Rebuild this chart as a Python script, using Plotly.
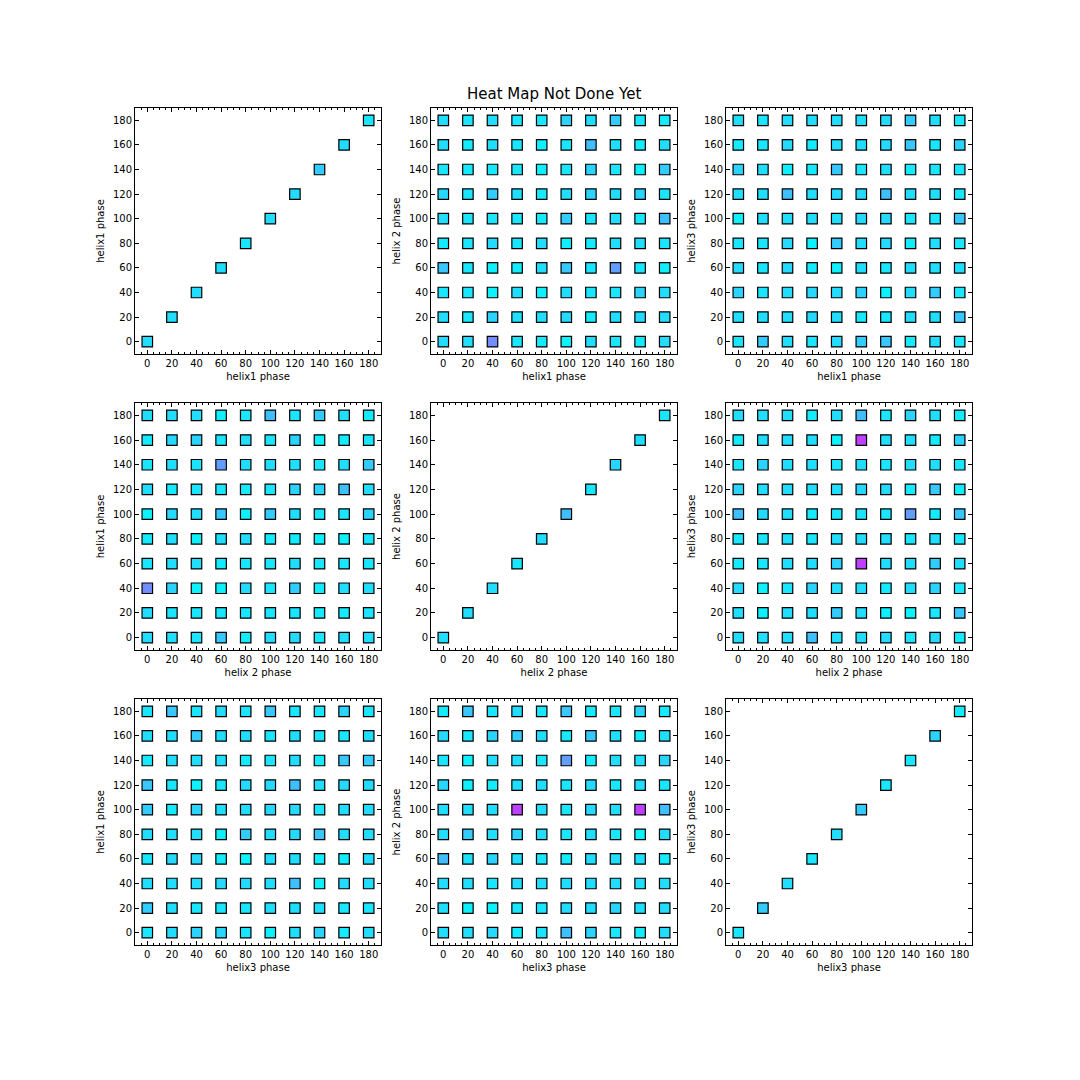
import plotly.graph_objects as go
from plotly.subplots import make_subplots

phases = [0, 20, 40, 60, 80, 100, 120, 140, 160, 180]
tick_vals = [0, 20, 40, 60, 80, 100, 120, 140, 160, 180]

# colour values (0 = cyan, 1 = magenta, "cool" colormap); rows listed from top (phase 180) to bottom (phase 0)
# A: x = helix1 phase, y = helix 2 phase
A_rows = [
    [0.13, 0.10, 0.13, 0.10, 0.10, 0.17, 0.13, 0.20, 0.10, 0.08],
    [0.13, 0.08, 0.13, 0.10, 0.06, 0.10, 0.25, 0.13, 0.08, 0.13],
    [0.10, 0.08, 0.08, 0.10, 0.06, 0.10, 0.17, 0.10, 0.06, 0.20],
    [0.15, 0.10, 0.20, 0.13, 0.08, 0.13, 0.17, 0.13, 0.17, 0.10],
    [0.13, 0.10, 0.10, 0.10, 0.08, 0.20, 0.10, 0.13, 0.10, 0.25],
    [0.08, 0.10, 0.15, 0.10, 0.13, 0.06, 0.08, 0.13, 0.13, 0.10],
    [0.22, 0.10, 0.06, 0.08, 0.13, 0.22, 0.10, 0.38, 0.10, 0.06],
    [0.10, 0.10, 0.05, 0.13, 0.06, 0.13, 0.10, 0.10, 0.17, 0.13],
    [0.13, 0.10, 0.17, 0.13, 0.13, 0.15, 0.08, 0.13, 0.15, 0.13],
    [0.13, 0.13, 0.45, 0.10, 0.08, 0.05, 0.13, 0.10, 0.08, 0.13],
]
# B: x = helix1 phase, y = helix3 phase
B_rows = [
    [0.13, 0.10, 0.13, 0.13, 0.13, 0.13, 0.15, 0.20, 0.13, 0.10],
    [0.08, 0.10, 0.15, 0.08, 0.13, 0.13, 0.15, 0.22, 0.10, 0.17],
    [0.17, 0.13, 0.06, 0.08, 0.22, 0.10, 0.13, 0.08, 0.10, 0.10],
    [0.13, 0.13, 0.25, 0.13, 0.15, 0.15, 0.25, 0.13, 0.13, 0.10],
    [0.06, 0.13, 0.13, 0.13, 0.13, 0.15, 0.15, 0.10, 0.10, 0.22],
    [0.10, 0.10, 0.15, 0.05, 0.20, 0.13, 0.15, 0.08, 0.13, 0.10],
    [0.15, 0.10, 0.15, 0.08, 0.06, 0.13, 0.10, 0.13, 0.13, 0.13],
    [0.17, 0.10, 0.13, 0.15, 0.13, 0.17, 0.05, 0.13, 0.20, 0.10],
    [0.13, 0.13, 0.13, 0.15, 0.13, 0.08, 0.10, 0.13, 0.13, 0.22],
    [0.10, 0.20, 0.13, 0.10, 0.13, 0.20, 0.22, 0.08, 0.13, 0.10],
]
# C: x = helix 2 phase, y = helix3 phase
C_rows = [
    [0.13, 0.13, 0.13, 0.08, 0.13, 0.25, 0.10, 0.17, 0.13, 0.08],
    [0.08, 0.13, 0.13, 0.13, 0.05, 0.75, 0.13, 0.13, 0.08, 0.17],
    [0.10, 0.17, 0.13, 0.13, 0.10, 0.13, 0.10, 0.13, 0.13, 0.10],
    [0.17, 0.13, 0.13, 0.13, 0.13, 0.15, 0.15, 0.08, 0.22, 0.08],
    [0.25, 0.15, 0.13, 0.08, 0.10, 0.10, 0.10, 0.38, 0.08, 0.22],
    [0.10, 0.10, 0.13, 0.10, 0.13, 0.13, 0.13, 0.10, 0.13, 0.10],
    [0.08, 0.10, 0.13, 0.13, 0.17, 0.75, 0.13, 0.13, 0.20, 0.13],
    [0.15, 0.05, 0.10, 0.17, 0.13, 0.13, 0.08, 0.13, 0.17, 0.10],
    [0.13, 0.06, 0.13, 0.13, 0.20, 0.13, 0.06, 0.05, 0.10, 0.22],
    [0.13, 0.13, 0.13, 0.25, 0.13, 0.13, 0.15, 0.10, 0.15, 0.08],
]
# diagonal panels (phase 0 .. 180)
D1 = [0.13, 0.13, 0.13, 0.13, 0.10, 0.13, 0.15, 0.20, 0.13, 0.10]
D2 = [0.13, 0.13, 0.13, 0.10, 0.13, 0.25, 0.10, 0.17, 0.13, 0.10]
D3 = [0.10, 0.20, 0.13, 0.10, 0.13, 0.20, 0.10, 0.10, 0.17, 0.08]

labels = ["helix1 phase", "helix 2 phase", "helix3 phase"]
title_text = "Heat Map Not Done Yet"

COOL = [[0.0, "rgb(0,255,255)"], [1.0, "rgb(255,0,255)"]]


def grid_points(rows, transpose=False):
    xs, ys, cs = [], [], []
    for yi in range(10):
        for xi in range(10):
            if transpose:
                v = rows[9 - xi][yi]
            else:
                v = rows[9 - yi][xi]
            xs.append(phases[xi])
            ys.append(phases[yi])
            cs.append(v)
    return xs, ys, cs


def diag_points(d):
    return list(phases), list(phases), list(d)


panels = {
    (0, 0): diag_points(D1),
    (0, 1): grid_points(A_rows),
    (0, 2): grid_points(B_rows),
    (1, 0): grid_points(A_rows, transpose=True),
    (1, 1): diag_points(D2),
    (1, 2): grid_points(C_rows),
    (2, 0): grid_points(B_rows, transpose=True),
    (2, 1): grid_points(C_rows, transpose=True),
    (2, 2): diag_points(D3),
}

W = H = 1080
OFF = 8  # page body margin offset
col_px = [(135, 381), (431, 677), (726, 972)]
row_px = [(108, 354), (403, 650), (699, 945)]

fig = make_subplots(rows=3, cols=3)
FONT = "DejaVu Sans, Liberation Sans, sans-serif"

for (r, c), (xs, ys, cs) in panels.items():
    fig.add_trace(
        go.Scatter(
            x=xs, y=ys, mode="markers",
            marker=dict(symbol="square", size=10.5, color=cs, colorscale=COOL,
                        cmin=0, cmax=1, line=dict(color="black", width=1.2)),
            showlegend=False, hoverinfo="x+y",
        ),
        row=r + 1, col=c + 1,
    )

for r in range(3):
    for c in range(3):
        idx = r * 3 + c + 1
        xname = "xaxis" if idx == 1 else f"xaxis{idx}"
        yname = "yaxis" if idx == 1 else f"yaxis{idx}"
        x0, x1 = col_px[c]
        y0, y1 = row_px[r]
        common = dict(
            range=[-10, 190], tickmode="array", tickvals=tick_vals,
            ticks="inside", ticklen=4, tickwidth=1, tickcolor="black",
            showline=True, linecolor="black", linewidth=1, mirror="allticks",
            showgrid=False, zeroline=False,
            tickfont=dict(family=FONT, size=10, color="black"),
        )
        fig.layout[xname].update(
            domain=[(x0 - OFF) / W, (x1 - OFF) / W], **common,
            minor=dict(dtick=5, tick0=0, ticks="inside", ticklen=2, tickcolor="black", showgrid=False),
            title=dict(text=labels[r], font=dict(family=FONT, size=10, color="black"), standoff=4),
        )
        fig.layout[yname].update(
            domain=[1 - (y1 - OFF) / H, 1 - (y0 - OFF) / H], **common,
            title=dict(text=labels[c], font=dict(family=FONT, size=10, color="black"), standoff=6),
        )

fig.add_annotation(
    text=title_text, xref="paper", yref="paper",
    x=((col_px[1][0] + col_px[1][1]) / 2 - OFF) / W, y=1 - (105 - OFF) / H,
    xanchor="center", yanchor="bottom", showarrow=False,
    font=dict(family=FONT, size=15, color="black"),
)

fig.update_layout(
    width=W, height=H, margin=dict(l=0, r=0, t=0, b=0),
    paper_bgcolor="white", plot_bgcolor="white",
)

fig.write_html("out.html")
